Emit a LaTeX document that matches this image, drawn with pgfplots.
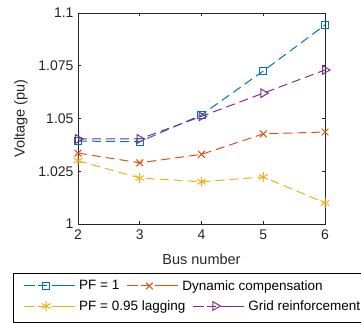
\documentclass[border=0pt]{standalone}
\usepackage{pgfplots}
\pgfplotsset{compat=1.18}
\usepackage{fontspec}
\setmainfont{Liberation Sans}
\definecolor{mblue}{rgb}{0,0.447,0.741}
\definecolor{morange}{rgb}{0.85,0.325,0.098}
\definecolor{myellow}{rgb}{0.929,0.694,0.125}
\definecolor{mpurple}{rgb}{0.494,0.184,0.556}
\definecolor{maxis}{rgb}{0.15,0.15,0.15}
\pgfplotsset{
  mlegimg/.style={legend image code/.code={
    \path (0pt,0pt) -- (51pt,0pt);
    \draw[##1, mark=none, solid] (0pt,0pt) -- (11pt,0pt);
    \draw[##1, mark=none, solid] (34pt,0pt) -- (45pt,0pt);
    \draw[##1] plot coordinates {(22.5pt,0pt)};}},
  sblue/.style={mblue, line width=1pt, dash pattern=on 9pt off 5pt, mark=square, mark size=3.6pt, mark options={solid}},
  sorange/.style={morange, line width=1pt, dash pattern=on 9pt off 5pt, mark=x, mark size=4.8pt, mark options={solid}},
  syellow/.style={myellow, line width=1pt, dash pattern=on 9pt off 5pt, mark=asterisk, mark size=5pt, mark options={solid}},
  spurple/.style={mpurple, line width=1pt, dash pattern=on 9pt off 5pt, mark=triangle, mark size=5pt, mark options={solid, rotate=-90}},
}
\begin{document}
\begin{tikzpicture}[x=1pt,y=1pt]
\begin{axis}[
  at={(0pt,0pt)}, anchor=south west,
  scale only axis, width=247pt, height=211pt,
  xmin=2, xmax=6, ymin=1, ymax=1.1,
  xtick={2,3,4,5,6},
  ytick={1,1.025,1.05,1.075,1.1},
  yticklabels={1,1.025,1.05,1.075,1.1},
  tick align=inside, tick pos=both,
  major tick length=3pt,
  axis line style={maxis, line width=0.5pt},
  every tick/.style={maxis, line width=0.5pt},
  tick label style={text=maxis, font=\fontsize{14}{16}\selectfont},
  xticklabel style={yshift=-2pt},
  yticklabel style={xshift=-1pt},
  /pgf/number format/assume math mode=true,
  xlabel={Bus number}, ylabel={Voltage (pu)},
  every axis x label/.style={at={(rel axis cs:0.5,0)}, anchor=center, yshift=-35pt, text=maxis, font=\fontsize{14.5}{16}\selectfont},
  every axis y label/.style={at={(rel axis cs:0,0.5)}, anchor=center, xshift=-57pt, rotate=90, text=maxis, font=\fontsize{14.5}{16}\selectfont},
  mlegimg,
  legend columns=2,
  legend style={at={(rel axis cs:0,0)}, anchor=west, xshift=-55pt, yshift=-62pt, draw=none, fill=none, inner sep=0pt,
    font=\fontsize{13.5}{15}\selectfont, text=black,
    /tikz/every even column/.append style={column sep=3pt},
    nodes={inner xsep=4pt}},
]
\addplot[sblue] coordinates {(2,1.0393) (3,1.0390) (4,1.0517) (5,1.0725) (6,1.0943)};
\addlegendentry{PF = 1}
\addplot[sorange] coordinates {(2,1.0336) (3,1.0290) (4,1.0330) (5,1.0427) (6,1.0436)};
\addlegendentry{Dynamic compensation}
\addplot[syellow, forget plot] coordinates {(2,1.0300) (3,1.0218) (4,1.0200) (5,1.0223) (6,1.0100)};
\addplot[spurple, forget plot] coordinates {(2,1.0403) (3,1.0403) (4,1.0510) (5,1.0620) (6,1.0730)};
\end{axis}
\begin{axis}[
  at={(0pt,0pt)}, anchor=south west,
  scale only axis, width=247pt, height=211pt,
  xmin=0, xmax=1, ymin=0, ymax=1, hide axis,
  mlegimg,
  legend columns=2,
  legend style={at={(rel axis cs:0,0)}, anchor=west, xshift=-55pt, yshift=-82pt, draw=none, fill=none, inner sep=0pt,
    font=\fontsize{13.5}{15}\selectfont, text=black,
    /tikz/every even column/.append style={column sep=3pt},
    nodes={inner xsep=4pt}},
]
\addlegendimage{syellow}
\addlegendentry{PF = 0.95 lagging}
\addlegendimage{spurple}
\addlegendentry{Grid reinforcement}
\end{axis}
\draw[black, line width=0.5pt] (-65,-49) rectangle (300,-98);
\pgfresetboundingbox
\useasboundingbox (-78,-99) rectangle (283,224);
\end{tikzpicture}
\end{document}
